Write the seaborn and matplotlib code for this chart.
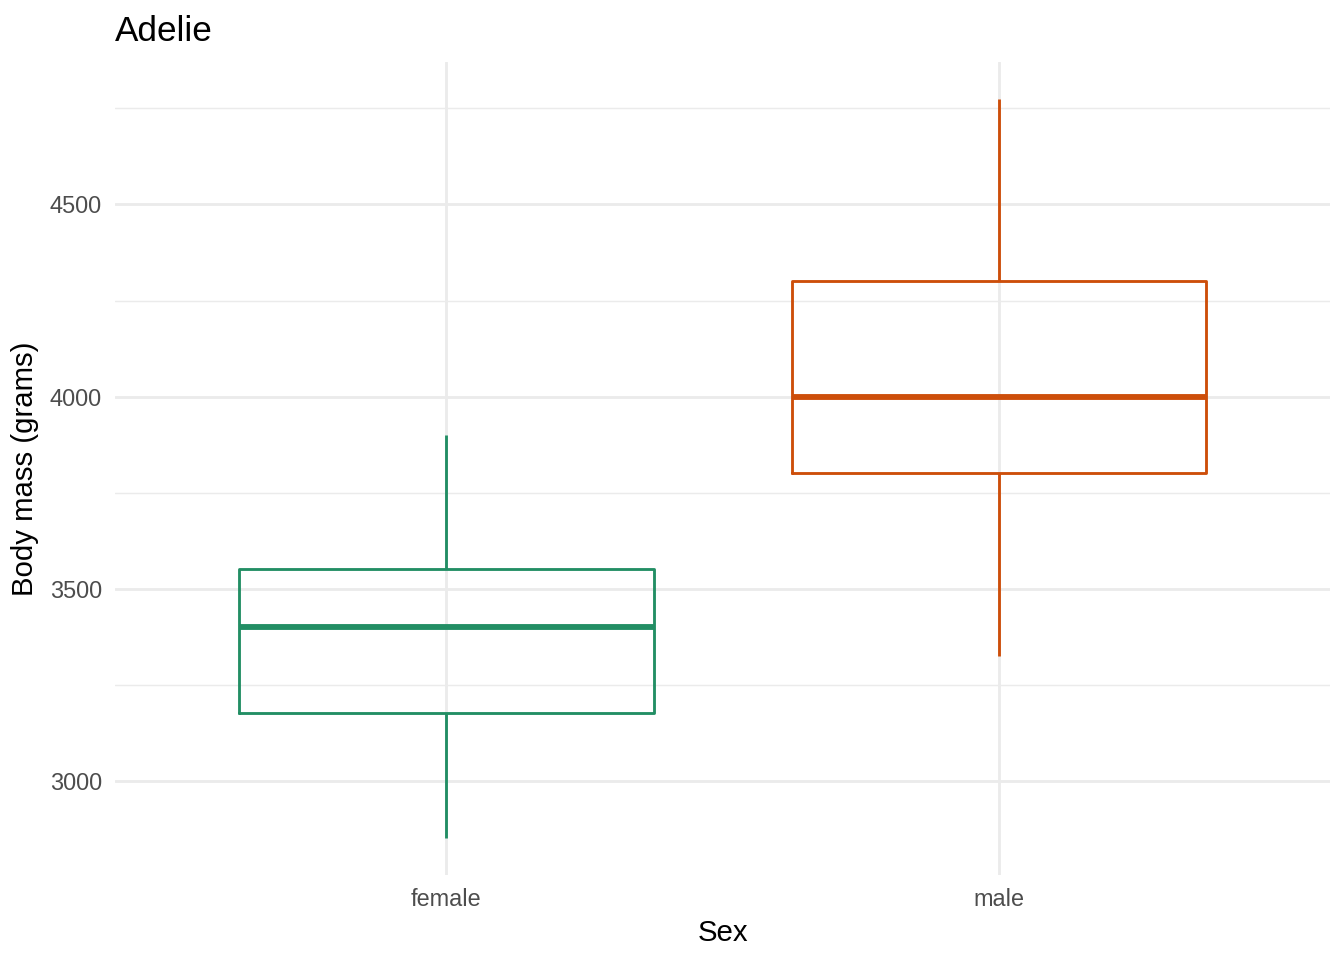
import numpy as np
import pandas as pd
import matplotlib
matplotlib.use("Agg")
import matplotlib.pyplot as plt
import seaborn as sns

# =========================
# DATA (five-number summaries)
# =========================
sexes = ["female", "male"]
female_mass = [2850, 3175, 3400, 3550, 3900]
male_mass = [3325, 3800, 4000, 4300, 4775]
box_colors = ["#228E64", "#CD4E0A"]
major_ticks = [3000, 3500, 4000, 4500]
minor_ticks = [3250, 3750, 4250, 4750]

df = pd.DataFrame({
    "Sex": ["female"] * len(female_mass) + ["male"] * len(male_mass),
    "Body mass": female_mass + male_mass,
})

# =========================
# SETTINGS
# =========================
sns.set_style("white")
plt.rcParams["font.family"] = ["Liberation Sans", "DejaVu Sans"]

fig, ax = plt.subplots(figsize=(7, 5), dpi=192)
fig.subplots_adjust(left=0.0856, right=0.9896, top=0.9354, bottom=0.0885)

sns.boxplot(
    data=df, x="Sex", y="Body mass", hue="Sex", order=sexes, hue_order=sexes,
    palette=box_colors, saturation=1, fill=False, width=0.75, linewidth=1.07,
    showcaps=False, whis=1.5, legend=False,
    medianprops={"linewidth": 2.2}, ax=ax,
)

# grid like theme_minimal
ax.set_yticks(major_ticks)
ax.set_yticks(minor_ticks, minor=True)
ax.set_xlim(-0.6, 1.6)
ax.set_ylim(2754, 4871)
ax.grid(which="major", axis="both", color="#EBEBEB", linewidth=1.07)
ax.grid(which="minor", axis="y", color="#EBEBEB", linewidth=0.55)
ax.set_axisbelow(True)
for s in ax.spines.values():
    s.set_visible(False)
ax.tick_params(which="both", length=0, pad=5, labelsize=8.8, labelcolor="#4D4D4D")

ax.set_title("Adelie", loc="left", fontsize=13.2, pad=8, color="black")
ax.set_xlabel("Sex", fontsize=11, labelpad=3, color="black")
ax.set_ylabel("Body mass (grams)", fontsize=11, labelpad=4, color="black")

fig.savefig("out.png", dpi=192)
